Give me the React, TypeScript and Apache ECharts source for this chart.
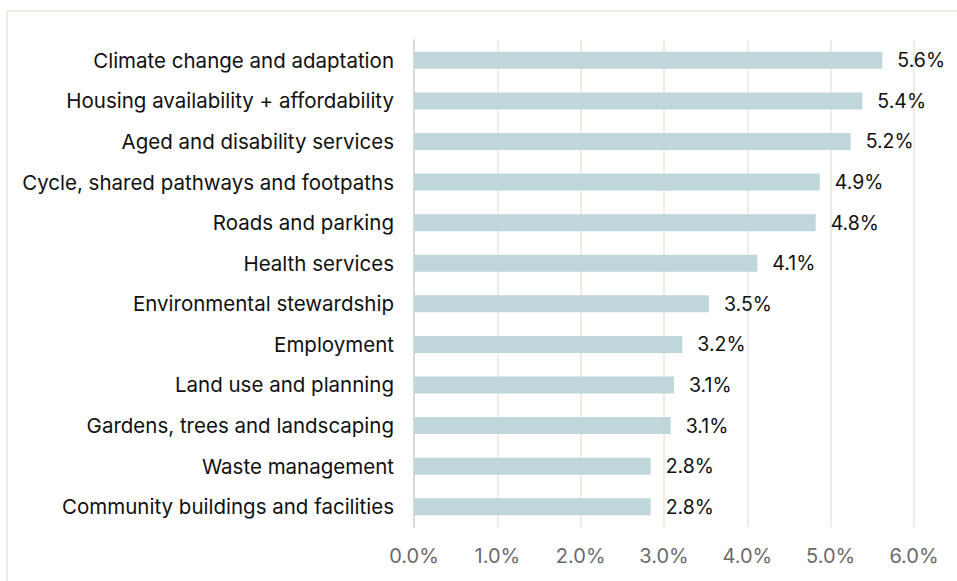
import React, { useEffect, useRef } from "react";
import * as echarts from "echarts";

const categories = [
  "Climate change and adaptation",
  "Housing availability + affordability",
  "Aged and disability services",
  "Cycle, shared pathways and footpaths",
  "Roads and parking",
  "Health services",
  "Environmental stewardship",
  "Employment",
  "Land use and planning",
  "Gardens, trees and landscaping",
  "Waste management",
  "Community buildings and facilities",
];

const values = [5.62, 5.38, 5.24, 4.87, 4.82, 4.12, 3.54, 3.22, 3.12, 3.08, 2.84, 2.84];

const xTicks = { min: 0, max: 6, interval: 1 };

const FONT = "Inter, 'Liberation Sans', Arial, sans-serif";

export default function App() {
  const ref = useRef<HTMLDivElement>(null);
  useEffect(() => {
    if (!ref.current) return;
    const chart = echarts.init(ref.current, undefined, { renderer: "svg" });
    chart.setOption({
      animation: false,
      backgroundColor: "#ffffff",
      textStyle: { fontFamily: FONT },
      graphic: [
        {
          type: "rect",
          silent: true,
          z: -1,
          shape: { x: 7, y: 11, width: 1200, height: 1200 },
          style: { fill: "none", stroke: "#EFEDE3", lineWidth: 2 },
        },
      ],
      grid: { left: 414, right: 43, top: 40, bottom: 54, containLabel: false },
      xAxis: {
        type: "value",
        min: xTicks.min,
        max: xTicks.max,
        interval: xTicks.interval,
        axisLine: { show: false },
        axisTick: { show: false },
        splitLine: { show: true, lineStyle: { color: "#EFECE1", width: 2 } },
        axisLabel: {
          color: "#6b6b6b",
          fontSize: 20,
          fontFamily: FONT,
          margin: 19,
          formatter: (v: number) => v.toFixed(1) + "%",
        },
      },
      yAxis: {
        type: "category",
        data: categories,
        inverse: true,
        axisTick: { show: false },
        axisLine: { show: true, lineStyle: { color: "#D9D9D9", width: 2 } },
        axisLabel: { color: "#111111", fontSize: 20.5, fontFamily: FONT, margin: 20 },
      },
      series: [
        {
          type: "bar",
          data: values,
          barWidth: 17,
          itemStyle: { color: "#BFD6DB" },
          label: {
            show: true,
            position: "right",
            distance: 15,
            color: "#111111",
            fontSize: 19.5,
            fontFamily: FONT,
            formatter: (p: any) => Number(p.value).toFixed(1) + "%",
          },
        },
      ],
    });
    return () => chart.dispose();
  }, []);
  return (
    <div
      ref={ref}
      style={{ position: "fixed", left: 0, top: 0, width: 957, height: 581 }}
    />
  );
}
